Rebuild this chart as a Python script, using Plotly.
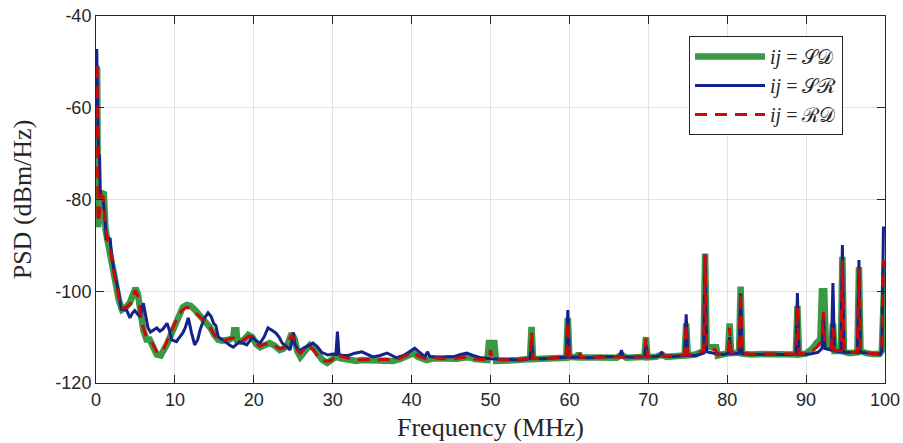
import plotly.graph_objects as go

# Power spectral density of the three links, (frequency in MHz, PSD in dBm/Hz)
sd_points = [
    (0.0, -51.0), (0.15, -51.5), (0.25, -86.0), (0.45, -84.0), (0.6, -78.5), (1.0, -78.8),
    (1.2, -86.5), (1.5, -89.5), (1.8, -91.0), (2.1, -95.0), (2.5, -98.5), (2.9, -102.0),
    (3.3, -104.0), (3.8, -103.5), (4.3, -102.5), (4.7, -100.5), (5.0, -99.3), (5.3, -100.5),
    (5.6, -104.0), (6.0, -108.5), (6.4, -110.5), (6.8, -110.5), (7.2, -112.0), (7.7, -113.8),
    (8.2, -114.0), (8.6, -113.0), (9.0, -111.5), (9.5, -109.5), (10.0, -107.5), (10.5, -105.0),
    (11.0, -103.5), (11.5, -103.0), (12.0, -103.2), (12.5, -104.0), (13.0, -105.0), (13.5, -106.0),
    (14.0, -106.8), (14.5, -108.0), (15.0, -109.5), (15.5, -110.6), (16.0, -110.8), (16.5, -110.8),
    (17.0, -110.5), (17.4, -110.0), (17.5, -108.5), (17.8, -108.5), (17.9, -110.8), (18.3, -111.0),
    (18.8, -110.5), (19.3, -109.5), (19.8, -110.0), (20.3, -111.5), (20.8, -112.2), (21.3, -111.8),
    (22.0, -111.3), (22.6, -111.8), (23.3, -112.8), (23.8, -112.5), (24.3, -111.5), (24.8, -109.2),
    (25.2, -110.5), (25.5, -113.0), (25.9, -114.3), (26.5, -113.0), (27.1, -111.8), (27.6, -112.5),
    (28.1, -113.5), (28.7, -115.0), (29.3, -115.6), (29.9, -115.0), (30.4, -114.3), (31.0, -114.6),
    (31.6, -114.8), (32.2, -115.0), (33.0, -115.2), (33.7, -115.0), (34.5, -115.0), (35.6, -115.2),
    (36.6, -115.0), (37.6, -115.2), (38.5, -114.8), (39.3, -114.2), (40.2, -113.5), (40.8, -114.3),
    (41.9, -115.0), (42.8, -114.6), (43.7, -114.7), (44.7, -114.9), (45.7, -114.7), (46.5, -114.5),
    (47.4, -114.4), (48.0, -114.8), (48.7, -115.0), (49.6, -115.0), (49.8, -111.3), (50.5, -111.3),
    (50.7, -115.2), (51.5, -115.2), (52.5, -115.0), (53.5, -115.0), (54.5, -114.8), (55.0, -114.8),
    (55.2, -107.8), (55.4, -114.8), (56.5, -114.7), (57.5, -114.7), (58.5, -114.5), (59.6, -114.5),
    (59.8, -105.8), (60.0, -114.3), (61.0, -114.4), (61.2, -113.5), (61.4, -114.4), (63.0, -114.5),
    (64.5, -114.4), (66.0, -114.5), (66.6, -113.8), (67.2, -114.5), (68.5, -114.4), (69.5, -114.3),
    (69.7, -110.0), (69.9, -114.4), (71.0, -114.3), (71.7, -113.8), (72.3, -114.3), (73.5, -114.2),
    (74.6, -114.0), (74.8, -107.0), (75.0, -114.0), (76.0, -113.8), (77.0, -113.0), (77.2, -91.8),
    (77.4, -112.0), (78.0, -112.2), (78.6, -112.2), (78.8, -114.0), (79.5, -113.8), (80.1, -113.5),
    (80.3, -107.0), (80.5, -113.5), (81.5, -113.4), (81.7, -99.0), (81.9, -113.6), (83.0, -113.8),
    (84.5, -113.7), (86.0, -113.8), (87.5, -113.7), (88.7, -113.8), (88.9, -103.2), (89.1, -113.8),
    (90.0, -113.6), (90.8, -112.5), (91.3, -111.3), (91.8, -110.5), (92.0, -100.0), (92.3, -100.0),
    (92.5, -112.0), (93.2, -112.5), (93.4, -107.0), (93.6, -113.0), (94.4, -113.0), (94.6, -92.5),
    (94.8, -113.2), (95.5, -113.5), (96.5, -113.3), (96.7, -94.7), (96.9, -113.0), (97.6, -113.5),
    (98.5, -113.7), (99.3, -113.7), (99.6, -113.0), (99.8, -93.6), (100.0, -93.6),
]

sr_points = [
    (0.0, -47.5), (0.1, -47.5), (0.2, -60.0), (0.3, -70.0), (0.45, -70.5), (0.55, -78.5),
    (0.7, -79.5), (0.9, -80.0), (1.1, -83.0), (1.3, -88.5), (1.5, -88.4), (1.8, -88.6),
    (2.0, -92.5), (2.2, -94.7), (2.6, -98.0), (2.9, -100.5), (3.2, -104.0), (3.6, -104.0),
    (3.9, -104.2), (4.3, -105.8), (4.6, -104.8), (4.9, -104.2), (5.3, -105.0), (5.6, -105.6),
    (6.0, -102.6), (6.3, -105.5), (6.6, -108.0), (6.9, -108.9), (7.3, -108.5), (7.7, -108.0),
    (8.1, -108.7), (8.5, -108.2), (9.0, -107.0), (9.3, -108.5), (9.6, -110.6), (10.2, -111.0),
    (10.6, -110.0), (11.0, -109.1), (11.3, -108.0), (11.7, -105.8), (12.1, -109.0), (12.5, -111.7),
    (12.9, -110.5), (13.2, -108.4), (13.7, -106.0), (14.2, -104.7), (14.6, -105.5), (14.9, -107.0),
    (15.2, -107.5), (15.5, -110.0), (16.0, -110.5), (16.5, -111.2), (17.0, -111.8), (17.4, -112.2),
    (17.8, -111.5), (18.2, -111.0), (18.6, -111.3), (19.1, -111.7), (19.5, -110.8), (19.8, -110.0),
    (20.3, -110.8), (20.8, -111.3), (21.3, -110.0), (21.8, -108.0), (22.3, -108.5), (22.8, -109.1),
    (23.2, -110.0), (23.6, -111.3), (24.1, -112.0), (24.6, -112.8), (24.9, -110.5), (25.0, -109.0),
    (25.2, -111.5), (25.7, -113.1), (26.2, -112.5), (26.8, -112.0), (27.5, -111.3), (28.0, -112.0),
    (28.6, -113.3), (29.4, -113.9), (30.0, -113.7), (30.4, -113.8), (30.6, -108.8), (30.8, -113.8),
    (31.3, -114.0), (32.0, -114.0), (32.8, -113.5), (33.7, -113.2), (34.4, -113.7), (35.1, -114.3),
    (36.0, -114.0), (36.9, -113.5), (37.5, -114.0), (38.1, -114.5), (39.0, -114.0), (39.7, -113.2),
    (40.4, -112.4), (41.0, -113.3), (41.7, -114.3), (42.0, -113.2), (42.3, -114.2), (43.0, -114.4),
    (43.7, -114.5), (44.5, -114.3), (45.3, -114.3), (46.2, -113.8), (47.0, -113.5), (47.8, -114.0),
    (48.7, -114.5), (50.0, -114.7), (51.0, -114.8), (52.0, -114.9), (53.0, -115.0), (53.7, -115.0),
    (54.5, -114.8), (55.0, -114.6), (55.2, -110.6), (55.4, -114.6), (56.5, -114.7), (57.5, -114.6),
    (58.5, -114.5), (59.6, -114.4), (59.8, -104.1), (60.0, -114.4), (61.0, -114.4), (62.5, -114.5),
    (64.0, -114.3), (65.5, -114.4), (66.4, -114.3), (66.6, -112.8), (66.8, -114.3), (68.0, -114.4),
    (69.5, -114.3), (69.7, -111.5), (69.9, -114.3), (71.0, -114.2), (71.5, -114.0), (71.7, -113.2),
    (71.9, -114.1), (73.0, -114.2), (74.6, -114.0), (74.8, -105.0), (75.0, -114.0), (76.0, -114.0),
    (77.0, -113.5), (77.2, -92.0), (77.4, -113.2), (78.3, -113.5), (79.5, -113.8), (80.1, -113.6),
    (80.3, -110.0), (80.5, -113.6), (81.5, -113.5), (81.7, -100.5), (81.9, -113.6), (83.0, -113.8),
    (85.0, -113.7), (87.0, -113.8), (88.7, -113.8), (88.9, -100.4), (89.1, -113.8), (90.5, -113.7),
    (91.5, -113.3), (92.0, -112.5), (92.2, -105.0), (92.4, -112.5), (93.2, -112.8), (93.4, -98.2),
    (93.6, -113.0), (94.4, -113.2), (94.6, -89.9), (94.8, -113.3), (96.5, -113.4), (96.7, -93.2),
    (96.9, -113.3), (98.5, -113.6), (99.4, -113.7), (99.6, -113.0), (99.8, -86.2), (100.0, -86.2),
]

rd_points = [
    (0.0, -51.0), (0.15, -51.5), (0.25, -85.0), (0.45, -83.0), (0.6, -79.0), (0.9, -79.5),
    (1.2, -86.0), (1.5, -89.0), (1.8, -90.5), (2.1, -94.5), (2.5, -98.0), (2.9, -101.5),
    (3.3, -103.8), (3.8, -103.5), (4.3, -102.8), (4.7, -101.0), (5.0, -99.8), (5.3, -101.0),
    (5.6, -104.5), (6.0, -108.0), (6.4, -110.0), (6.8, -110.8), (7.2, -111.5), (7.7, -113.2),
    (8.2, -113.5), (8.6, -112.5), (9.0, -111.0), (9.5, -109.0), (10.0, -107.0), (10.5, -105.0),
    (11.0, -104.0), (11.5, -103.5), (12.0, -103.8), (12.5, -104.5), (13.0, -105.2), (13.5, -106.0),
    (14.0, -106.8), (14.5, -108.0), (15.0, -109.5), (15.5, -110.5), (16.0, -110.8), (16.5, -110.6),
    (17.0, -110.3), (17.5, -110.2), (17.9, -110.6), (18.3, -110.9), (18.8, -110.5), (19.3, -109.8),
    (19.8, -110.0), (20.3, -111.3), (20.8, -112.0), (21.3, -111.6), (22.0, -111.3), (22.6, -111.8),
    (23.3, -112.6), (23.8, -112.3), (24.3, -111.3), (24.8, -109.5), (25.2, -110.8), (25.5, -112.8),
    (25.9, -113.5), (26.5, -112.5), (26.9, -111.7), (27.6, -112.8), (28.4, -115.0), (29.0, -115.2),
    (29.7, -115.2), (30.2, -114.5), (30.6, -113.5), (31.0, -114.2), (31.6, -114.5), (32.5, -114.8),
    (33.5, -115.0), (34.5, -114.9), (35.5, -115.0), (36.6, -114.8), (37.6, -115.0), (38.5, -114.6),
    (39.3, -114.0), (40.2, -113.3), (40.8, -114.1), (41.9, -114.8), (42.8, -114.5), (43.7, -114.6),
    (44.7, -114.8), (45.7, -114.6), (46.5, -114.4), (47.4, -114.3), (48.0, -114.7), (48.7, -114.9),
    (49.8, -114.9), (50.0, -112.8), (50.2, -114.9), (51.5, -115.0), (52.5, -114.9), (53.5, -114.9),
    (54.5, -114.7), (55.0, -114.7), (55.2, -108.9), (55.4, -114.7), (56.5, -114.6), (57.5, -114.6),
    (58.5, -114.4), (59.6, -114.4), (59.8, -106.6), (60.0, -114.3), (61.1, -114.4), (61.3, -113.5),
    (61.5, -114.4), (63.0, -114.4), (64.5, -114.3), (66.0, -114.4), (67.2, -114.4), (68.5, -114.3),
    (69.5, -114.2), (69.7, -110.3), (69.9, -114.3), (71.0, -114.2), (72.3, -114.2), (73.5, -114.1),
    (74.6, -113.9), (74.8, -107.0), (75.0, -113.9), (76.0, -113.7), (77.0, -113.0), (77.2, -92.0),
    (77.4, -112.3), (78.0, -112.5), (78.5, -112.8), (78.8, -113.9), (79.5, -113.7), (80.1, -113.4),
    (80.3, -108.0), (80.5, -113.4), (81.5, -113.3), (81.7, -100.2), (81.9, -113.5), (83.0, -113.7),
    (84.5, -113.6), (86.0, -113.7), (87.5, -113.6), (88.7, -113.7), (88.9, -103.4), (89.1, -113.7),
    (90.0, -113.5), (90.8, -113.0), (91.5, -112.0), (92.0, -110.5), (92.2, -104.5), (92.4, -111.5),
    (93.2, -112.4), (93.4, -108.0), (93.6, -112.9), (94.4, -112.9), (94.6, -93.2), (94.8, -113.1),
    (95.5, -113.4), (96.5, -113.2), (96.7, -95.0), (96.9, -113.0), (97.6, -113.4), (98.5, -113.6),
    (99.3, -113.6), (99.6, -113.0), (99.8, -93.6), (100.0, -93.6),
]

series_names = ["<i>ij</i> = 𝒮𝒟", "<i>ij</i> = 𝒮ℛ", "<i>ij</i> = ℛ𝒟"]

x_ticks = [0, 10, 20, 30, 40, 50, 60, 70, 80, 90, 100]
y_ticks = [-120, -100, -80, -60, -40]
y_tick_labels = ["-120", "-100", "-80", "-60", "-40"]

GREEN = "#3a9945"
BLUE = "#15228c"
RED = "#cc0a0a"
AXIS = "#262626"
GRID = "#e1e1e1"
SERIF = "Liberation Serif, Times New Roman, serif"


def unzip(points):
    return [p[0] for p in points], [p[1] for p in points]


fig = go.Figure()
for pts, name, line in [
    (sd_points, series_names[0], dict(color=GREEN, width=6.5)),
    (sr_points, series_names[1], dict(color=BLUE, width=3)),
    (rd_points, series_names[2], dict(color=RED, width=3, dash="12px,8px")),
]:
    fx, fy = unzip(pts)
    fig.add_trace(go.Scatter(x=fx, y=fy, mode="lines", name=name, line=line))

axis_common = dict(
    showline=True, linecolor=AXIS, linewidth=1, mirror="ticks",
    ticks="inside", ticklen=8, tickcolor=AXIS, tickwidth=1,
    showgrid=True, gridcolor=GRID, gridwidth=1, zeroline=False,
    tickfont=dict(family="Liberation Sans, Arial, sans-serif", size=18, color=AXIS),
)

fig.update_xaxes(
    range=[0, 100], tickvals=x_ticks,
    title=dict(text="Frequency (MHz)", standoff=9,
               font=dict(family=SERIF, size=26, color=AXIS)),
    **axis_common,
)
fig.update_yaxes(
    range=[-120, -40], tickvals=y_ticks, ticktext=y_tick_labels,
    title=dict(text="PSD (dBm/Hz)", standoff=16,
               font=dict(family=SERIF, size=26, color=AXIS)),
    **axis_common,
)

fig.update_layout(
    width=903, height=443,
    margin=dict(l=96, r=18, t=16, b=60, autoexpand=False),
    paper_bgcolor="white", plot_bgcolor="white",
    showlegend=True,
    legend=dict(
        x=0.7516, y=0.9455, xanchor="left", yanchor="top",
        bgcolor="white", bordercolor=AXIS, borderwidth=1,
        itemwidth=70, tracegroupgap=0,
        font=dict(family="Liberation Serif, DejaVu Serif, serif", size=20, color=AXIS),
    ),
)

fig.write_html("out.html")
